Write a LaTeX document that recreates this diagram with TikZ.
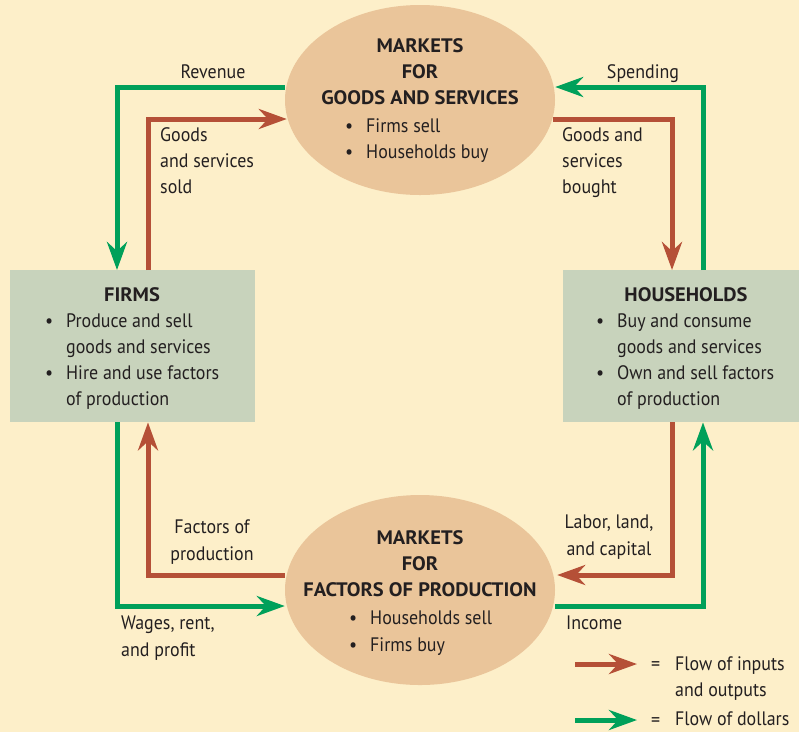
\documentclass[tikz,border=0pt]{standalone}
\usepackage{fontspec}
\setmainfont{PT Sans}[FakeStretch=0.92]
\newfontfamily\ttlfont{PT Sans}[FakeStretch=1.05]
\usetikzlibrary{arrows.meta,shapes.geometric}
\definecolor{bgc}{RGB}{253,239,201}
\definecolor{ellc}{RGB}{234,197,154}
\definecolor{boxc}{RGB}{200,211,188}
\definecolor{redc}{RGB}{181,80,55}
\definecolor{grnc}{RGB}{0,160,90}
\definecolor{txtc}{RGB}{35,31,32}
\newcommand\bul{\makebox[21pt][l]{\textbullet}}
\tikzset{
  mkt/.style={ellipse,fill=ellc,draw=none,minimum width=270pt,minimum height=190pt,inner sep=0pt},
  agent/.style={rectangle,fill=boxc,draw=none,inner sep=0pt},
  txt/.style={inner sep=0pt,text=txtc,font=\fontsize{19.5}{26.3}\selectfont},
  ttl/.style={inner sep=0pt,text=txtc,font=\fontsize{19.5}{26.3}\selectfont\ttlfont\bfseries,align=center},
  rflow/.style={draw=redc,line width=5pt,-{Stealth[length=28pt,width=20pt]}},
  gflow/.style={draw=grnc,line width=5pt,-{Stealth[length=28pt,width=20pt]}},
}
\begin{document}
\begin{tikzpicture}[x=1pt,y=-1pt]
\fill[bgc] (0,0) rectangle (799,732);
\useasboundingbox (0,0) rectangle (799,732);
% nodes
\node[mkt] (top) at (420,100) {};
\node[mkt] (bot) at (420,590) {};
\node[agent,minimum width=245pt,minimum height=152pt,anchor=north west] (firms) at (10,270) {};
\node[agent,minimum width=236pt,minimum height=152pt,anchor=north west] (house) at (563,270) {};
% ellipse texts
\node[ttl,anchor=north] (toptitle) at (420,38) {MARKETS\\FOR\\GOODS AND SERVICES};
\node[txt,anchor=north west,align=left] (topbul) at (345,118) {\bul Firms sell\\\bul Households buy};
\node[ttl,anchor=north] (bottitle) at (420,530) {MARKETS\\FOR\\FACTORS OF PRODUCTION};
\node[txt,anchor=north west,align=left] (botbul) at (349,611) {\bul Households sell\\\bul Firms buy};
% box texts
\node[ttl,anchor=north] (firmstitle) at (132,287) {FIRMS};
\node[txt,anchor=north west,align=left] (firmsbul) at (45,313) {\bul Produce and sell\\\hspace*{21pt}goods and services\\\bul Hire and use factors\\\hspace*{21pt}of production};
\node[ttl,anchor=north] (housetitle) at (686,287) {HOUSEHOLDS};
\node[txt,anchor=north west,align=left] (housebul) at (596,313) {\bul Buy and consume\\\hspace*{21pt}goods and services\\\bul Own and sell factors\\\hspace*{21pt}of production};
% flows
\draw[gflow] ([yshift=13pt]top.west) -| ([xshift=107pt]firms.north west);
\draw[rflow] ([xshift=138pt]firms.north west) |- ([xshift=2pt,yshift=-19pt]top.west);
\draw[gflow] ([xshift=140pt]house.north west) |- ([yshift=13pt]top.east);
\draw[rflow] ([xshift=-2pt,yshift=-19pt]top.east) -| ([xshift=109pt]house.north west);
\draw[rflow] ([xshift=109pt]house.south west) |- ([xshift=2pt,yshift=15pt]bot.east);
\draw[gflow] ([yshift=-16pt]bot.east) -| ([xshift=140pt]house.south west);
\draw[gflow] ([xshift=107pt]firms.south west) |- ([yshift=-16pt]bot.west);
\draw[rflow] ([yshift=15pt]bot.west) -| ([xshift=138pt]firms.south west);
% labels
\node[txt,anchor=north] (rev) at (213,64) {Revenue};
\node[txt,anchor=north] (spend) at (643,64) {Spending};
\node[txt,anchor=north west,align=left] (gss) at (160,127) {Goods\\and services\\sold};
\node[txt,anchor=north west,align=left] (gsb) at (562,127) {Goods and\\services\\bought};
\node[txt,anchor=north,align=center] (fop) at (212,520) {Factors of\\production};
\node[txt,anchor=north,align=center] (llc) at (609,515) {Labor, land,\\and capital};
\node[txt,anchor=north west,align=left] (wrp) at (121,616) {Wages, rent,\\and profit};
\node[txt,anchor=north west] (inc) at (566,616) {Income};
% legend
\coordinate (l1s) at (575,664);
\coordinate (l1e) at (637,664);
\coordinate (l2s) at (575,720);
\coordinate (l2e) at (637,720);
\draw[rflow] (l1s) -- (l1e);
\draw[gflow] (l2s) -- (l2e);
\node[txt,anchor=base west] (eq1) at (651,670) {=};
\node[txt,anchor=north west,align=left] (leg1) at (675,656) {Flow of inputs\\and outputs};
\node[txt,anchor=base west] (eq2) at (651,726) {=};
\node[txt,anchor=north west] (leg2) at (675,712) {Flow of dollars};
\end{tikzpicture}
\end{document}
